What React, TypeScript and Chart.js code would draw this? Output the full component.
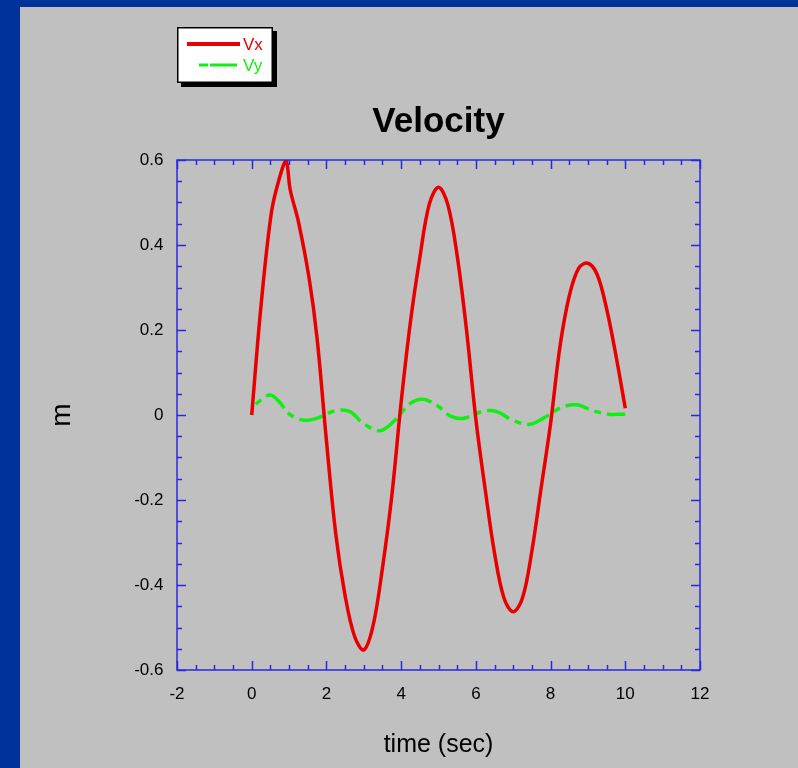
import React, { useEffect, useRef } from "react";
import { Chart, registerables } from "chart.js";

Chart.register(...registerables);

// ---- data ----
const vxTime = [0, 0.25, 0.53, 0.75, 0.92, 1.03, 1.25, 1.54, 1.75, 2.0, 2.25, 2.5, 2.75, 3.0, 3.25, 3.5, 3.75, 4.0, 4.25, 4.5, 4.75, 5.0, 5.25, 5.5, 5.75, 6.0, 6.25, 6.5, 6.75, 7.0, 7.25, 7.5, 7.75, 8.0, 8.25, 8.5, 8.75, 9.0, 9.25, 9.5, 9.75, 10.0];
const vxValues = [0, 0.258, 0.478, 0.56, 0.598, 0.53, 0.455, 0.32, 0.18, -0.06, -0.28, -0.425, -0.52, -0.553, -0.495, -0.36, -0.19, 0.03, 0.22, 0.37, 0.495, 0.536, 0.495, 0.375, 0.2, -0.01, -0.175, -0.325, -0.43, -0.463, -0.43, -0.32, -0.17, -0.02, 0.16, 0.28, 0.345, 0.357, 0.33, 0.25, 0.14, 0.016];

const vyTime = [0, 0.18, 0.49, 0.75, 0.98, 1.38, 1.74, 2.23, 2.63, 2.99, 3.43, 3.79, 4.24, 4.59, 5.0, 5.31, 5.66, 6.2, 6.56, 7.0, 7.45, 7.8, 8.3, 8.7, 9.14, 9.55, 9.95, 10.0];
const vyValues = [0.015, 0.031, 0.047, 0.03, 0.004, -0.012, -0.008, 0.01, 0.008, -0.02, -0.037, -0.016, 0.027, 0.037, 0.02, -0.002, -0.008, 0.009, 0.008, -0.013, -0.022, -0.008, 0.018, 0.024, 0.01, 0.002, 0.002, 0.002];

const seriesLabels = ["Vx", "Vy"];
const seriesColors = ["#e80000", "#11ee11"];

const xTickValues = [-2, 0, 2, 4, 6, 8, 10, 12];
const yTickValues = [-0.6, -0.4, -0.2, 0, 0.2, 0.4, 0.6];
const xMinorTicks = [-1.5, -1, -0.5, 0.5, 1, 1.5, 2.5, 3, 3.5, 4.5, 5, 5.5, 6.5, 7, 7.5, 8.5, 9, 9.5, 10.5, 11, 11.5];
const yMinorTicks = [-0.55, -0.5, -0.45, -0.35, -0.3, -0.25, -0.15, -0.1, -0.05, 0.05, 0.1, 0.15, 0.25, 0.3, 0.35, 0.45, 0.5, 0.55];

const FONT = "'Liberation Sans', Arial, Helvetica, sans-serif";

const backgroundPlugin = {
  id: "pageBackground",
  beforeDraw(chart: any) {
    const { ctx, width, height } = chart;
    ctx.save();
    ctx.fillStyle = "#003399";
    ctx.fillRect(0, 0, width, height);
    ctx.fillStyle = "#c0c0c0";
    ctx.fillRect(20, 7, width - 20, height - 7);
    ctx.restore();
  },
};

const frameTicksPlugin = {
  id: "frameTicks",
  afterDatasetsDraw(chart: any) {
    const { ctx, chartArea, scales } = chart;
    const { left, right, top, bottom } = chartArea;
    const xs = scales.x;
    const ys = scales.y;
    ctx.save();
    ctx.strokeStyle = "rgb(40,40,225)";
    ctx.lineWidth = 1.5;
    ctx.beginPath();
    const drawX = (v: number, len: number) => {
      const px = Math.round(xs.getPixelForValue(v)) + 0.5;
      ctx.moveTo(px, bottom);
      ctx.lineTo(px, bottom - len);
      ctx.moveTo(px, top);
      ctx.lineTo(px, top + len);
    };
    const drawY = (v: number, len: number) => {
      const py = Math.round(ys.getPixelForValue(v)) + 0.5;
      ctx.moveTo(left, py);
      ctx.lineTo(left + len, py);
      ctx.moveTo(right, py);
      ctx.lineTo(right - len, py);
    };
    xTickValues.forEach((v) => drawX(v, 9));
    xMinorTicks.forEach((v) => drawX(v, 5));
    yTickValues.forEach((v) => drawY(v, 9));
    yMinorTicks.forEach((v) => drawY(v, 5));
    ctx.stroke();
    ctx.strokeRect(left, top, right - left, bottom - top);
    ctx.restore();
  },
};

const legendPlugin = {
  id: "boxLegend",
  afterDraw(chart: any) {
    const { ctx } = chart;
    const bx = 177, by = 27, bw = 96, bh = 56;
    ctx.save();
    ctx.fillStyle = "#000";
    ctx.fillRect(bx + 4, by + 4, bw, bh);
    ctx.fillStyle = "#fff";
    ctx.fillRect(bx, by, bw, bh);
    ctx.strokeStyle = "#000";
    ctx.lineWidth = 1.5;
    ctx.strokeRect(bx + 0.75, by + 0.75, bw - 1.5, bh - 1.5);

    ctx.lineCap = "butt";
    ctx.strokeStyle = seriesColors[0];
    ctx.lineWidth = 4;
    ctx.beginPath();
    ctx.moveTo(187, 44);
    ctx.lineTo(240, 44);
    ctx.stroke();
    ctx.strokeStyle = seriesColors[1];
    ctx.lineWidth = 3;
    ctx.beginPath();
    ctx.moveTo(199, 65);
    ctx.lineTo(208, 65);
    ctx.moveTo(210, 65);
    ctx.lineTo(237, 65);
    ctx.stroke();

    ctx.font = `17px ${FONT}`;
    ctx.textBaseline = "middle";
    ctx.textAlign = "left";
    ctx.fillStyle = seriesColors[0];
    ctx.fillText(seriesLabels[0], 243, 45);
    ctx.fillStyle = seriesColors[1];
    ctx.fillText(seriesLabels[1], 243, 66);
    ctx.restore();
  },
};

export default function App() {
  const canvasRef = useRef<HTMLCanvasElement | null>(null);

  useEffect(() => {
    if (!canvasRef.current) return;
    const tickFont = { family: FONT, size: 17 };
    const chart = new Chart(canvasRef.current, {
      type: "line",
      data: {
        datasets: [
          {
            label: seriesLabels[0],
            data: vxTime.map((t, i) => ({ x: t, y: vxValues[i] })),
            borderColor: seriesColors[0],
            borderWidth: 3.5,
            pointRadius: 0,
            fill: false,
            tension: 0.35,
          },
          {
            label: seriesLabels[1],
            data: vyTime.map((t, i) => ({ x: t, y: vyValues[i] })),
            borderColor: seriesColors[1],
            borderWidth: 3.5,
            borderDash: [24, 6, 7, 6],
            borderDashOffset: 24,
            pointRadius: 0,
            fill: false,
            tension: 0.35,
          },
        ],
      },
      options: {
        animation: false,
        responsive: false,
        events: [],
        layout: { padding: { top: 101, right: 98, left: 0, bottom: 0 } },
        plugins: {
          legend: { display: false },
          tooltip: { enabled: false },
          title: {
            display: true,
            text: "Velocity",
            fullSize: false,
            color: "#000",
            font: { family: FONT, size: 35, weight: "bold", lineHeight: 1.2 },
            padding: { top: 0, bottom: 17 },
          },
        },
        scales: {
          x: {
            type: "linear",
            min: -2,
            max: 12,
            afterBuildTicks: (s: any) => {
              s.ticks = xTickValues.map((v) => ({ value: v }));
            },
            afterFit: (s: any) => {
              s.height = 98;
            },
            ticks: {
              callback: (v: any) => String(v),
              padding: 14,
              color: "#000",
              font: tickFont,
              maxRotation: 0,
              autoSkip: false,
            },
            grid: { display: false, drawTicks: false },
            border: { display: false },
            title: {
              display: true,
              text: "time (sec)",
              color: "#000",
              font: { family: FONT, size: 25, lineHeight: 1.2 },
              padding: { top: 0, bottom: 8 },
            },
          },
          y: {
            type: "linear",
            min: -0.6,
            max: 0.6,
            afterBuildTicks: (s: any) => {
              s.ticks = yTickValues.map((v) => ({ value: v }));
            },
            afterFit: (s: any) => {
              s.width = 177;
            },
            ticks: {
              callback: (v: any) => String(v),
              padding: 13.5,
              color: "#000",
              font: tickFont,
              autoSkip: false,
            },
            grid: { display: false, drawTicks: false },
            border: { display: false },
            title: {
              display: true,
              text: "m",
              color: "#000",
              font: { family: FONT, size: 28, lineHeight: 1.2 },
              padding: { top: 45.7, bottom: 0 },
            },
          },
        },
      } as any,
      plugins: [backgroundPlugin, frameTicksPlugin, legendPlugin],
    });
    return () => chart.destroy();
  }, []);

  return (
    <div style={{ position: "fixed", left: 0, top: 0, width: 798, height: 768 }}>
      <canvas ref={canvasRef} width={798} height={768} style={{ display: "block" }} />
    </div>
  );
}
